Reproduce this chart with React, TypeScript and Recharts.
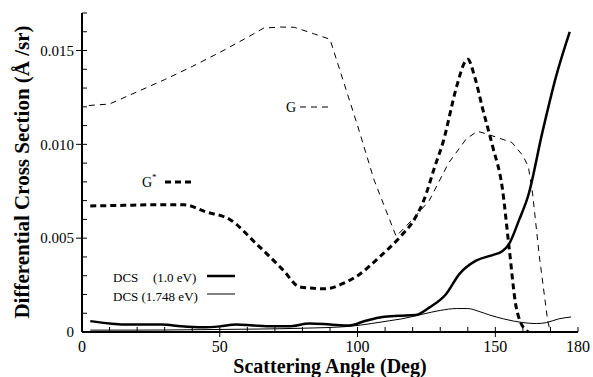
import { LineChart, Line, XAxis, YAxis, Customized } from "recharts";

// G (thin dashed)
const G_ANGLE = [2.5, 10, 20, 30, 40, 50, 60, 66, 72, 77, 84, 90, 100, 106, 110, 114, 120, 126, 133, 139.5, 143.5, 148, 152, 156, 160, 162, 163.5, 166, 169, 170];
const G_VALUE = [0.01207, 0.01215, 0.0128, 0.01345, 0.01415, 0.0149, 0.0157, 0.0162, 0.01625, 0.01624, 0.0159, 0.0156, 0.011, 0.0081, 0.0066, 0.0051, 0.006, 0.007, 0.009, 0.0103, 0.0107, 0.0105, 0.0103, 0.0101, 0.0094, 0.0088, 0.0074, 0.004, 0.0006, 0];

// G* (thick dashed)
const GS_ANGLE = [3, 15, 25, 37, 45, 53.6, 63, 73, 79, 84, 88, 95, 100, 108, 115, 121, 124, 128, 131, 136, 139, 140, 142.5, 145.4, 149, 152.5, 155, 157.6, 161, 162];
const GS_VALUE = [0.00672, 0.00675, 0.00678, 0.00678, 0.0064, 0.006, 0.00474, 0.0033, 0.0024, 0.00233, 0.0023, 0.0026, 0.003, 0.004, 0.005, 0.0061, 0.007, 0.0088, 0.0101, 0.0131, 0.0144, 0.01453, 0.0136, 0.0119, 0.0099, 0.0077, 0.0045, 0.0013, 0.0001, 0];

// DCS (1.0 eV), thick solid
const D1_ANGLE = [3, 10, 15, 22, 29, 36, 44, 50, 56, 62, 69, 75, 82.6, 90, 97, 103, 109, 115, 121, 126, 132, 137, 143, 149, 152.5, 155, 158.7, 162, 167, 172, 177];
const D1_VALUE = [0.00058, 0.00045, 0.0004, 0.0004, 0.0004, 0.0003, 0.00025, 0.0003, 0.0004, 0.00035, 0.0003, 0.0003, 0.00045, 0.0004, 0.00035, 0.0006, 0.0008, 0.00086, 0.0009, 0.0013, 0.002, 0.0031, 0.0038, 0.0041, 0.0043, 0.0047, 0.006, 0.0073, 0.0106, 0.0136, 0.016];

// DCS (1.748 eV), thin solid
const D2_ANGLE = [3, 20, 40, 60, 80, 97, 105, 111.6, 116, 123.6, 130, 136, 140, 144, 148, 153, 160, 165, 168.5, 173, 177.5];
const D2_VALUE = [0.0001, 0.0001, 0.00012, 0.00015, 0.0002, 0.0003, 0.00045, 0.0006, 0.0007, 0.00095, 0.00115, 0.00125, 0.00125, 0.0011, 0.0009, 0.0007, 0.0005, 0.00045, 0.0005, 0.0007, 0.0008];

const X_TICKS = [0, 10, 20, 30, 40, 50, 60, 70, 80, 90, 100, 110, 120, 130, 140, 150, 160, 170, 180];
const X_LABELS = [0, 50, 100, 150, 180];
const Y_TICKS = [0, 0.001, 0.002, 0.003, 0.004, 0.005, 0.006, 0.007, 0.008, 0.009, 0.01, 0.011, 0.012, 0.013, 0.014, 0.015, 0.016, 0.017];
const Y_LABELS = [0, 0.005, 0.01, 0.015];

const FONT = "'Liberation Serif', 'Times New Roman', serif";

const toPoints = (xs: number[], ys: number[]) => xs.map((x, i) => ({ angle: x, v: ys[i] }));

const isY = (v: number) => Y_LABELS.some((l) => Math.abs(l - v) < 1e-9);
const fmtY = (v: number) => (v === 0 ? "0" : v.toFixed(3));

function BottomTick(props: any) {
  const { x, y, payload } = props;
  const major = X_LABELS.includes(payload.value);
  return (
    <g>
      <line x1={x} x2={x} y1={y} y2={y - 5} stroke="#000" strokeWidth={1} />
      {major && payload.value !== 0 && payload.value !== 180 && (
        <line x1={x} x2={x} y1={y} y2={y + 5} stroke="#000" strokeWidth={1} />
      )}
      {major && (
        <text x={x} y={y + 20} textAnchor="middle" style={{ fontFamily: FONT, fontSize: 16 }} fill="#000">
          {payload.value}
        </text>
      )}
    </g>
  );
}

function LeftTick(props: any) {
  const { x, y, payload } = props;
  const major = isY(payload.value);
  return (
    <g>
      <line x1={x} x2={x + 5} y1={y} y2={y} stroke="#000" strokeWidth={1} />
      {major && payload.value !== 0 && <line x1={x - 6} x2={x} y1={y} y2={y} stroke="#000" strokeWidth={1} />}
      {major && (
        <text x={x - 8} y={y} dy="0.35em" textAnchor="end" style={{ fontFamily: FONT, fontSize: 15 }} fill="#000">
          {fmtY(payload.value)}
        </text>
      )}
    </g>
  );
}

function TopTick(props: any) {
  const { x, y } = props;
  return <line x1={x} x2={x} y1={y} y2={y + 5} stroke="#000" strokeWidth={1} />;
}

function RightTick(props: any) {
  const { x, y } = props;
  return <line x1={x} x2={x - 5} y1={y} y2={y} stroke="#000" strokeWidth={1} />;
}

function Notes() {
  return (
    <g style={{ fontFamily: FONT }} fill="#000">
      <text x={22} y={172} transform="rotate(-90 22 172)" textAnchor="middle" dy="0.35em" fontSize={21} fontWeight="bold">
        Differential Cross Section  (Å /sr)
      </text>
      <text x={330} y={373} textAnchor="middle" fontSize={20} fontWeight="bold">
        Scattering Angle (Deg)
      </text>
      <text x={286} y={112} fontSize={14}>G</text>
      <line x1={300} x2={331} y1={107} y2={107} stroke="#000" strokeWidth={1} strokeDasharray="6 5" />
      <text x={142} y={187} fontSize={14}>G</text>
      <text x={152} y={180} fontSize={9}>*</text>
      <line x1={165} x2={191} y1={182} y2={182} stroke="#000" strokeWidth={3} strokeDasharray="6 4" />
      <text x={113} y={282} fontSize={13}>DCS</text>
      <text x={153} y={282} fontSize={13}>(1.0 eV)</text>
      <line x1={207} x2={235} y1={276} y2={276} stroke="#000" strokeWidth={2.5} />
      <text x={113} y={301} fontSize={13}>DCS (1.748 eV)</text>
      <line x1={207} x2={235} y1={294} y2={294} stroke="#000" strokeWidth={1} />
    </g>
  );
}

export default function App() {
  return (
    <div style={{ position: "absolute", left: 0, top: 0, width: 593, height: 377, background: "#fff" }}>
      <LineChart width={593} height={377} margin={{ top: 13, right: 15, bottom: 0, left: 0 }}>
        <XAxis
          dataKey="angle"
          type="number"
          domain={[0, 180]}
          ticks={X_TICKS}
          interval={0}
          height={45}
          tickSize={0}
          tickMargin={0}
          tickLine={false}
          tick={BottomTick}
          axisLine={{ stroke: "#000", strokeWidth: 2 }}
        />
        <XAxis
          xAxisId="top"
          orientation="top"
          type="number"
          domain={[0, 180]}
          ticks={X_TICKS}
          interval={0}
          height={0}
          tickSize={0}
          tickMargin={0}
          tickLine={false}
          tick={TopTick}
          axisLine={{ stroke: "#000", strokeWidth: 1.5 }}
        />
        <YAxis
          type="number"
          domain={[0, 0.017]}
          ticks={Y_TICKS}
          interval={0}
          width={82}
          tickSize={0}
          tickMargin={0}
          tickLine={false}
          tick={LeftTick}
          axisLine={{ stroke: "#000", strokeWidth: 2 }}
        />
        <YAxis
          yAxisId="right"
          orientation="right"
          type="number"
          domain={[0, 0.017]}
          ticks={Y_TICKS}
          interval={0}
          width={0}
          tickSize={0}
          tickMargin={0}
          tickLine={false}
          tick={RightTick}
          axisLine={{ stroke: "#000", strokeWidth: 2 }}
        />
        <Line data={toPoints(G_ANGLE, G_VALUE)} dataKey="v" type="linear" stroke="#000" strokeWidth={1}
          strokeDasharray="6 5" dot={false} isAnimationActive={false} />
        <Line data={toPoints(GS_ANGLE, GS_VALUE)} dataKey="v" type="monotone" stroke="#000" strokeWidth={3}
          strokeDasharray="6 4" dot={false} isAnimationActive={false} />
        <Line data={toPoints(D1_ANGLE, D1_VALUE)} dataKey="v" type="monotone" stroke="#000" strokeWidth={2.5}
          dot={false} isAnimationActive={false} />
        <Line data={toPoints(D2_ANGLE, D2_VALUE)} dataKey="v" type="monotone" stroke="#000" strokeWidth={1}
          dot={false} isAnimationActive={false} />
        <Customized component={Notes} />
      </LineChart>
    </div>
  );
}
